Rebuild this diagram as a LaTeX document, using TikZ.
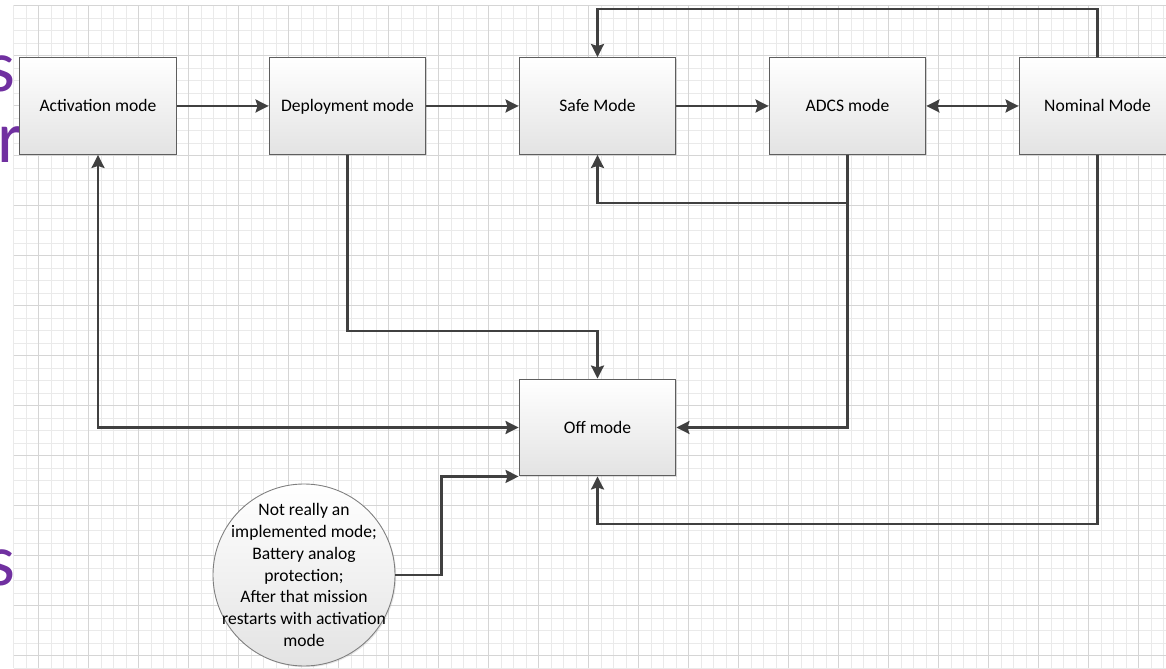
\documentclass[tikz,border=0pt]{standalone}
\usepackage{fontspec}
\setmainfont{Carlito}
\usetikzlibrary{arrows.meta,shadows}
\definecolor{gridF}{HTML}{EAEAEA}
\definecolor{gridD}{HTML}{D5D5D5}
\definecolor{modeT}{HTML}{FFFFFF}
\definecolor{modeB}{HTML}{E3E3E3}
\definecolor{modeD}{HTML}{5E5E5E}
\definecolor{arrC}{HTML}{404040}
\definecolor{slideC}{HTML}{7030A0}
\tikzset{
  mode/.style={draw=modeD, line width=0.8pt, top color=modeT, bottom color=modeB,
               minimum width=3.13cm, minimum height=1.93cm, align=center,
               text height=0.8em, text depth=0.12em,
               font=\fontsize{10}{12}\selectfont,
               drop shadow={shadow xshift=0.7pt, shadow yshift=-0.7pt, opacity=0.25}},
  note/.style={circle, draw=modeD!80, line width=0.5pt, top color=modeT, bottom color=modeB,
               minimum size=3.64cm, inner sep=0pt,
               drop shadow={shadow xshift=0.7pt, shadow yshift=-0.7pt, opacity=0.2}},
  notetext/.style={align=center, inner sep=0pt, font=\fontsize{10}{12.35}\selectfont},
  arr/.style={-{Stealth[length=2.6mm,width=2.6mm,inset=0.4mm]}, draw=arrC, line width=1.3pt},
  biarr/.style={arr, {Stealth[length=2.6mm,width=2.6mm,inset=0.4mm]}-{Stealth[length=2.6mm,width=2.6mm,inset=0.4mm]}},
  slide/.style={anchor=base east, inner sep=0pt, text=slideC, font=\fontsize{42}{50}\selectfont},
}

\begin{document}
\begin{tikzpicture}
\useasboundingbox (0,0) rectangle (23.32,13.36);
% paper grid
\draw[gridF, line width=0.5pt, step=0.25, xshift=0.02cm] (0.25,0) grid (23.3,13.25);
\draw[gridD, line width=0.5pt, step=1, xshift=0.77cm, yshift=0.25cm] (-0.5,-0.25) grid (22.55,13);
% slide text behind the diagram
\node[slide] (s1) at (0.31,11.52) {s};
\node[slide] (s2) at (0.48,10.1) {r};
\node[slide] (s3) at (0.31,1.66) {s};
% modes
\node[mode] (act) at (1.96,11.24) {Activation mode};
\node[mode] (dep) at (6.95,11.24) {Deployment mode};
\node[mode] (safe) at (11.95,11.24) {Safe Mode};
\node[mode] (adcs) at (16.95,11.24) {ADCS mode};
\node[mode] (nom) at (21.95,11.24) {Nominal Mode};
\node[mode] (off) at (11.95,4.81) {Off mode};
\node[note] (note) at (6.08,1.86) {};
\node[notetext] (notetxt) at (note.center) {Not really an\\implemented mode;\\Battery analog\\protection;\\After that mission\\restarts with activation\\mode};
% transitions
\draw[arr] (act) -- (dep);
\draw[arr] (dep) -- (safe);
\draw[arr] (safe) -- (adcs);
\draw[biarr] (adcs) -- (nom);
\draw[arr] (nom.north) -- ++(0,0.96) -| (safe.north);
\draw[arr] (adcs.south) -- ++(0,-0.96) -| (safe.south);
\draw[arr] (adcs.south) |- (off.east);
\draw[arr] (dep.south) -- ++(0,-3.52) -| (off.north);
\draw[biarr] (act.south) |- (off.west);
\draw[arr] (nom.south) -- ++(0,-7.38) -| (off.south);
\draw[arr] (note.east) -- ++(0.92,0) |- (off.south west);
\end{tikzpicture}
\end{document}
